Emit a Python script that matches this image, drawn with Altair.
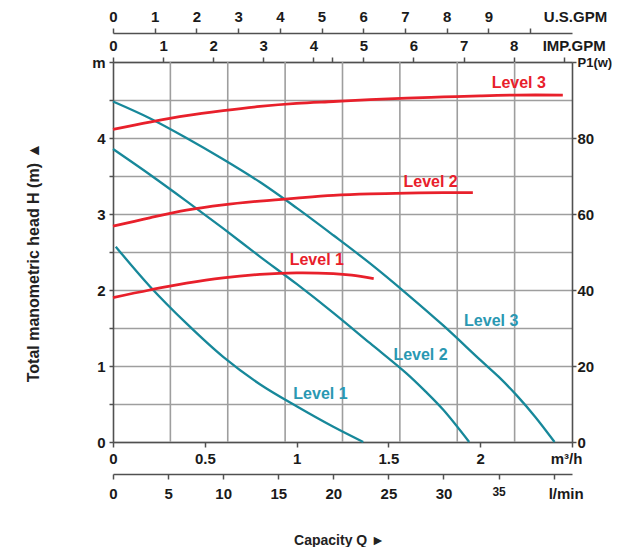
import altair as alt
import pandas as pd

# ---- data (flow Q in m3/h) ----
# H-Q curves (head in m)
h1_q = [0.015, 0.2, 0.4, 0.6, 0.8, 1.0, 1.2, 1.363]
h1_h = [2.57, 2.05, 1.56, 1.12, 0.76, 0.47, 0.20, 0.0]
h2_q = [0.0, 0.2, 0.4, 0.6, 0.8, 1.0, 1.2, 1.4, 1.6, 1.7, 1.8, 1.94]
h2_h = [3.855, 3.52, 3.17, 2.81, 2.44, 2.08, 1.70, 1.30, 0.90, 0.67, 0.42, 0.0]
h3_q = [0.0, 0.2, 0.4, 0.6, 0.8, 1.0, 1.2, 1.4, 1.6, 1.8, 2.0, 2.1, 2.2, 2.3, 2.405]
h3_h = [4.48, 4.26, 4.0, 3.72, 3.42, 3.08, 2.72, 2.35, 1.95, 1.53, 1.08, 0.86, 0.61, 0.33, 0.0]

# P1-Q curves (power in W)
p1_q = [0.0, 0.2, 0.4, 0.6, 0.8, 1.0, 1.2, 1.3, 1.42]
p1_w = [38.0, 40.0, 41.8, 43.2, 44.1, 44.5, 44.3, 43.9, 43.0]
p2_q = [0.0, 0.2, 0.4, 0.6, 0.8, 1.0, 1.2, 1.4, 1.6, 1.8, 1.96]
p2_w = [56.8, 59.0, 61.0, 62.4, 63.4, 64.2, 64.9, 65.3, 65.5, 65.6, 65.6]
p3_q = [0.0, 0.2, 0.4, 0.6, 0.8, 1.0, 1.2, 1.4, 1.6, 1.8, 2.0, 2.2, 2.45]
p3_w = [82.3, 84.2, 85.9, 87.2, 88.3, 89.1, 89.6, 90.1, 90.5, 90.8, 91.1, 91.3, 91.3]

# curve labels (positioned in Q / H units)
label_text = ["Level 1", "Level 2", "Level 3", "Level 1", "Level 2", "Level 3"]
label_q = [1.13, 1.675, 2.06, 1.11, 1.73, 2.21]
label_h = [0.63, 1.14, 1.59, 2.39, 3.42, 4.72]
label_kind = ["H", "H", "H", "P", "P", "P"]

# axis ticks
head_ticks = [0, 0.5, 1, 1.5, 2, 2.5, 3, 3.5, 4, 4.5, 5]
power_ticks = [0, 20, 40, 60, 80, 100]
m3h_ticks = [0, 0.5, 1, 1.5, 2, 2.5]
lmin_ticks = [0, 5, 10, 15, 20, 25, 30, 35, 40]
usgpm_ticks = [0, 1, 2, 3, 4, 5, 6, 7, 8, 9, 10]
impgpm_ticks = [0, 1, 2, 3, 4, 4.37, 5, 6, 7, 8, 9]
grid_q = [0.3125, 0.625, 0.9375, 1.25, 1.5625, 1.875, 2.1875]

Q_MAX = 2.5
H_MAX = 5
P_MAX = 100
US_PER_M3H = 4.40287
IMP_PER_M3H = 3.66615
LMIN_PER_M3H = 1000 / 60

TEAL = "#17889a"
TEAL_TXT = "#2a98b2"
RED = "#e8202b"
AXC = "#505050"
GRIDC = "#9e9e9e"
FONT = "Liberation Sans"
LFS = 15

def frame(qs, vs, name):
    return pd.DataFrame({"q": qs, "v": vs, "level": name})

h_df = pd.concat([frame(h1_q, h1_h, "1"), frame(h2_q, h2_h, "2"), frame(h3_q, h3_h, "3")])
p_df = pd.concat([frame(p1_q, p1_w, "1"), frame(p2_q, p2_w, "2"), frame(p3_q, p3_w, "3")])
lab_df = pd.DataFrame({"q": label_q, "h": label_h, "t": label_text,
                       "c": [TEAL_TXT if k == "H" else RED for k in label_kind]})

xq = alt.Scale(domain=[0, Q_MAX], nice=False, zero=False)
yh = alt.Scale(domain=[0, H_MAX], nice=False)
yp = alt.Scale(domain=[0, P_MAX], nice=False)

grid = alt.Chart(pd.DataFrame({"q": grid_q})).mark_rule(color=GRIDC, strokeWidth=1.6).encode(
    x=alt.X("q:Q", scale=xq, axis=None)
)

h_axis_x = alt.Axis(values=m3h_ticks, format="~g", orient="bottom", grid=False, title=None,
                    labelExpr="datum.value == 2.5 ? 'm³/h' : datum.label",
                    labelFlush=False, labelOverlap=False, tickSize=5, labelPadding=4,
                    labelOffset={"condition": {"test": "datum.value == 2.5", "value": -6}, "value": 0})
h_axis_y = alt.Axis(values=head_ticks, format="~g", orient="left", grid=True, gridColor=GRIDC, gridWidth=1.6,
                    labelExpr="datum.value == 5 ? 'm' : (datum.value % 1 == 0 ? datum.label : '')",
                    labelFlush=False, labelOverlap=False, tickSize=4, labelPadding=4,
                    title="Total manometric head H (m)   ▲", titlePadding=50, titleY=200,
                    titleFontSize=16, titleFontWeight="bold", titleColor="#222222")

hcurves = alt.Chart(h_df).mark_line(color=TEAL, strokeWidth=2.3, interpolate="catmull-rom").encode(
    x=alt.X("q:Q", scale=xq, axis=h_axis_x),
    y=alt.Y("v:Q", scale=yh, axis=h_axis_y),
    detail="level:N",
)

p_axis_y = alt.Axis(values=power_ticks, orient="right", grid=False, title=None,
                    labelExpr="datum.value == 100 ? 'P1(w)' : datum.label",
                    labelFontSize={"condition": {"test": "datum.value == 100", "value": 13}, "value": LFS},
                    labelFlush=False, labelOverlap=False, tickSize=4, labelPadding=1)
pcurves = alt.Chart(p_df).mark_line(color=RED, strokeWidth=2.8, interpolate="catmull-rom").encode(
    x=alt.X("q:Q", scale=xq, axis=None),
    y=alt.Y("v:Q", scale=yp, axis=p_axis_y),
    detail="level:N",
)

labels = alt.Chart(lab_df).mark_text(font=FONT, fontWeight="bold", fontSize=16,
                                     align="center", baseline="middle").encode(
    x=alt.X("q:Q", scale=xq, axis=None),
    y=alt.Y("h:Q", scale=yh, axis=None),
    text="t:N",
    color=alt.Color("c:N", scale=None),
)

def unit_layer(field, factor, axis):
    df = pd.DataFrame({field: [0, Q_MAX * factor]})
    return alt.Chart(df).mark_point(opacity=0).encode(
        x=alt.X(f"{field}:Q", scale=alt.Scale(domain=[0, Q_MAX * factor], nice=False, zero=False), axis=axis)
    )

us_axis = alt.Axis(values=usgpm_ticks, orient="top", offset=29, grid=False, title=None,
                   labelExpr="datum.value == 10 ? 'U.S.GPM' : datum.label",
                   labelFlush=False, labelOverlap=False, tickSize=5, labelPadding=4,
                   labelOffset={"condition": {"test": "datum.value == 10", "value": 45}, "value": 0})
imp_axis = alt.Axis(values=impgpm_ticks, orient="top", offset=0, grid=False, title=None,
                    labelExpr="datum.value == 9 ? 'IMP.GPM' : (datum.value % 1 == 0 ? datum.label : '')",
                    labelFlush=False, labelOverlap=False, tickSize=5, labelPadding=4,
                    labelOffset={"condition": {"test": "datum.value == 9", "value": 10}, "value": 0})
lmin_axis = alt.Axis(values=lmin_ticks, orient="bottom", offset=32, grid=False,
                     labelExpr="datum.value == 40 ? 'l/min' : datum.label",
                     labelFlush=False, labelOverlap=False, tickSize=5, labelPadding=7,
                     labelOffset={"condition": {"test": "datum.value == 40", "value": 12}, "value": 0},
                     labelFontSize={"condition": {"test": "datum.value == 35", "value": 12}, "value": LFS},
                     title="Capacity Q ►", titlePadding=32, titleX=226,
                     titleFontSize=14, titleFontWeight="bold", titleColor="#222222")

us_layer = unit_layer("usgpm", US_PER_M3H, us_axis)
imp_layer = unit_layer("impgpm", IMP_PER_M3H, imp_axis)
lmin_layer = unit_layer("lmin", LMIN_PER_M3H, lmin_axis)

chart = alt.layer(grid, hcurves, pcurves, labels, us_layer, imp_layer, lmin_layer).resolve_scale(
    x="independent", y="independent"
).properties(
    width=604, height=539,
    padding={"left": 17, "top": 1, "right": 0, "bottom": 0},
    autosize=alt.AutoSizeParams(type="fit", contains="padding"),
).configure_view(stroke=None).configure_axis(
    labelFont=FONT, labelFontWeight="bold", labelFontSize=LFS, labelColor="#1a1a1a",
    titleFont=FONT, domainColor=AXC, tickColor=AXC, domainWidth=1.6, tickWidth=1.5,
)

chart.save("out.html", embed_options={"renderer": "svg", "actions": False})
